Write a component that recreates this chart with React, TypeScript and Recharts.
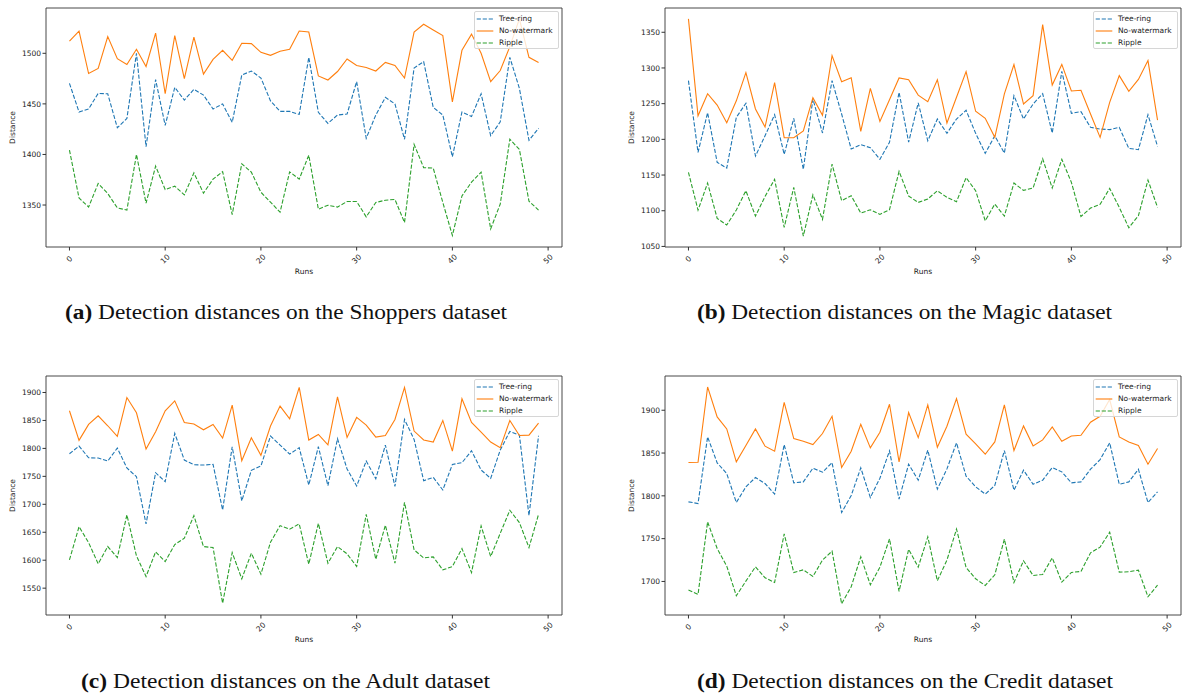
import React from 'react';
import {
  LineChart, Line, XAxis, YAxis, Legend, ReferenceArea,
} from 'recharts';

const runs = [0, 1, 2, 3, 4, 5, 6, 7, 8, 9, 10, 11, 12, 13, 14, 15, 16, 17, 18, 19, 20, 21, 22, 23, 24, 25, 26, 27, 28, 29, 30, 31, 32, 33, 34, 35, 36, 37, 38, 39, 40, 41, 42, 43, 44, 45, 46, 47, 48, 49];
const xTicks = [0, 10, 20, 30, 40, 50];

const shoppersTreeRing = [1470.3, 1442, 1445, 1460.4, 1460, 1426.4, 1435.6, 1500, 1407.6, 1474, 1428.7, 1466.3, 1453.8, 1464.4, 1458.7, 1445, 1450, 1431.7, 1478.5, 1482.5, 1475.6, 1453, 1442.6, 1442.6, 1439.6, 1496, 1441.6, 1430.7, 1439, 1440, 1472, 1416, 1439, 1456.4, 1450, 1415, 1485.5, 1491.7, 1446.5, 1439, 1397.7, 1442, 1437.6, 1460, 1418.5, 1432.3, 1496, 1465.3, 1414, 1425.7];
const shoppersNoWatermark = [1512, 1522, 1480, 1485, 1516.5, 1494.7, 1489, 1504, 1487, 1520, 1460, 1517.5, 1475, 1516, 1479.5, 1494, 1503, 1493, 1510, 1509.6, 1501, 1498, 1502, 1504, 1522, 1521, 1477.6, 1473.6, 1482, 1494.4, 1488, 1486, 1482.5, 1491, 1488, 1475.6, 1521, 1528.7, 1523, 1517.5, 1452, 1503, 1519, 1500, 1472, 1483, 1506.6, 1534, 1496, 1491];
const shoppersRipple = [1404.3, 1357, 1348, 1371.3, 1361.4, 1347.2, 1345, 1400, 1351.8, 1388.5, 1365.3, 1368.7, 1360, 1381.8, 1361.7, 1375.6, 1383, 1340.6, 1390.8, 1382.5, 1362.7, 1352.8, 1343, 1382.8, 1375.6, 1399.3, 1345.9, 1349.8, 1348, 1353.5, 1353.5, 1338.3, 1352.5, 1354.8, 1355.5, 1332.7, 1410, 1387, 1386.5, 1352.5, 1319.9, 1359, 1372.6, 1382.5, 1326.4, 1351, 1415, 1405, 1353.8, 1345];

const magicTreeRing = [1282.2, 1181.8, 1237.4, 1167.8, 1159.8, 1230.8, 1250.5, 1176.6, 1205, 1234.6, 1179, 1229.4, 1158, 1256.5, 1208.9, 1282.2, 1235.5, 1186.4, 1192.5, 1188.3, 1172, 1195.8, 1265.9, 1196, 1251, 1198, 1228.5, 1208.4, 1228.5, 1240.7, 1208.4, 1180.4, 1205, 1180.8, 1261.2, 1228.5, 1249.5, 1264, 1208.9, 1295.3, 1236.4, 1238.8, 1216.8, 1214.5, 1213.6, 1216.8, 1187.4, 1185.5, 1234.6, 1190.2];
const magicNoWatermark = [1368.7, 1233, 1264, 1248, 1223.4, 1254, 1293.5, 1242.5, 1217.3, 1279.4, 1202.3, 1202.3, 1211.7, 1258.4, 1233.6, 1317.3, 1280.8, 1286.4, 1211.2, 1271.5, 1225.2, 1255.6, 1286, 1283.6, 1262, 1252.8, 1283.6, 1222.9, 1259, 1294.9, 1239.3, 1229.4, 1202.8, 1263.6, 1304.7, 1249.5, 1261.2, 1360.7, 1276, 1305, 1267.8, 1268.7, 1235.5, 1202.8, 1251.9, 1289.3, 1267.3, 1284, 1310.3, 1227];
const magicRipple = [1153.7, 1100.9, 1138.8, 1089.3, 1080, 1101, 1128, 1092.5, 1120, 1144, 1076.6, 1132.7, 1064.5, 1122.4, 1087.9, 1165.4, 1114, 1121, 1096.7, 1101.4, 1094.9, 1101.4, 1155.1, 1120.6, 1111.7, 1116.4, 1128, 1118.7, 1112.6, 1146.3, 1128, 1086, 1109.3, 1092.5, 1138.8, 1128.5, 1131.8, 1172.9, 1131.8, 1172, 1139.7, 1092, 1103.7, 1108.9, 1131.3, 1104.7, 1076.2, 1093, 1143, 1104.7];

const adultTreeRing = [1790.5, 1804.2, 1783.3, 1782.7, 1777.4, 1800.6, 1764.9, 1749.4, 1664.9, 1756.5, 1740.5, 1826.8, 1779.2, 1770.8, 1770.2, 1771.4, 1689.9, 1803, 1706, 1760.7, 1768.5, 1822, 1806, 1789.9, 1801.2, 1734.5, 1803, 1733.3, 1817.3, 1763.1, 1732.7, 1777.4, 1745.8, 1806, 1732.1, 1851.8, 1816, 1742.3, 1748.2, 1725.6, 1771.4, 1774.4, 1795.8, 1761.3, 1746.4, 1797, 1830.4, 1823.8, 1679.8, 1822.6];
const adultNoWatermark = [1867.3, 1814.3, 1842.9, 1858.3, 1840.5, 1821.4, 1891, 1863.7, 1798.8, 1829.8, 1867.3, 1885, 1846.4, 1843.5, 1833.3, 1842.9, 1818.5, 1877.4, 1778, 1819, 1787.5, 1840, 1875.6, 1853, 1909, 1815, 1825, 1806.5, 1892.3, 1819.6, 1855.4, 1841.7, 1820.2, 1823.2, 1851.8, 1909, 1831, 1815, 1811.3, 1850, 1795.2, 1888.7, 1846.4, 1829.2, 1811.3, 1801.2, 1850, 1823.2, 1823.8, 1845.2];
const adultRipple = [1600.6, 1660, 1631.5, 1593.5, 1624.4, 1604.8, 1681, 1607.7, 1570.8, 1614.9, 1597.6, 1628, 1639.3, 1679.8, 1624.4, 1622.6, 1523, 1613.7, 1566.7, 1612.5, 1575, 1632.1, 1661.9, 1655.4, 1664.9, 1592.9, 1666, 1594.6, 1624.4, 1611.3, 1588.7, 1682.1, 1601.8, 1662.5, 1594.6, 1703.6, 1618.5, 1604.2, 1606, 1582.7, 1588.7, 1620.8, 1578, 1661.3, 1606.5, 1648.2, 1689.3, 1667.3, 1622.6, 1682.1];

const creditTreeRing = [1793, 1791, 1868.9, 1838.5, 1826, 1792.2, 1810.5, 1821.4, 1814.4, 1802, 1859.9, 1815.2, 1816.3, 1832.3, 1827.6, 1838.9, 1780.5, 1800.4, 1832.7, 1798, 1820.6, 1852.5, 1796.1, 1837, 1818.3, 1853.3, 1807.8, 1831.5, 1861.9, 1823, 1810.5, 1802, 1812.1, 1852.9, 1806.6, 1830, 1813.6, 1818.3, 1833.1, 1828, 1815.2, 1816.3, 1831.1, 1842.4, 1861.9, 1813.6, 1816.3, 1831.1, 1792.2, 1804.7];
const creditNoWatermark = [1838.9, 1839.3, 1927.2, 1892.2, 1878.2, 1839.7, 1858.8, 1878.2, 1858, 1852.1, 1909.3, 1866.9, 1863.8, 1859.9, 1872.8, 1893, 1833.1, 1852.1, 1883.7, 1856, 1874.3, 1907, 1839.7, 1897.3, 1868, 1906.2, 1856.8, 1881.3, 1913.6, 1872, 1860.7, 1848.6, 1863, 1906.2, 1852.9, 1881.7, 1858.4, 1865.4, 1880.5, 1863.8, 1870, 1870.8, 1886, 1893, 1912.5, 1868.9, 1863, 1858.8, 1837, 1855.3];
const creditRipple = [1689.9, 1684.8, 1769.6, 1738.5, 1717.9, 1683.3, 1700.4, 1717.1, 1704.3, 1698.8, 1755.6, 1710.5, 1713.6, 1705.8, 1724.9, 1735.4, 1673.9, 1693.8, 1728.8, 1696.1, 1716.7, 1749.8, 1688.3, 1737.5, 1716.7, 1752.1, 1700.8, 1724.9, 1761.1, 1716.3, 1703.1, 1695.3, 1707.8, 1749.4, 1698.8, 1724.1, 1707, 1708.2, 1727.6, 1699.2, 1710.5, 1711.7, 1733.5, 1740.1, 1757.6, 1710.9, 1711.3, 1713.2, 1682.1, 1695.7];

const shoppersTicks = [1350, 1400, 1450, 1500];
const magicTicks = [1050, 1100, 1150, 1200, 1250, 1300, 1350];
const adultTicks = [1550, 1600, 1650, 1700, 1750, 1800, 1850, 1900];
const creditTicks = [1700, 1750, 1800, 1850, 1900];

const FONT = '"DejaVu Sans", sans-serif';
const X_DOMAIN: [number, number] = [-2.45, 51.45];

const series = [
  { key: 'treeRing', name: 'Tree-ring', color: '#1f77b4', dash: '4.2 1.8' },
  { key: 'noWatermark', name: 'No-watermark', color: '#ff7f0e', dash: undefined },
  { key: 'ripple', name: 'Ripple', color: '#2ca02c', dash: '4.2 1.8' },
];

function buildRows(tr: number[], nw: number[], rp: number[]) {
  return runs.map((r, i) => ({ run: r, treeRing: tr[i], noWatermark: nw[i], ripple: rp[i] }));
}

const XTick = (props: any) => {
  const { x, y, payload } = props;
  return (
    <text
      transform={`translate(${x},${y + 6.5}) rotate(-45)`}
      textAnchor="middle"
      dominantBaseline="central"
      fontSize={7.5}
      fontFamily={FONT}
      fill="#222"
    >
      {payload.value}
    </text>
  );
};

const LegendBox = () => (
  <div
    style={{
      width: 85, height: 38, boxSizing: 'border-box', paddingTop: 1,
      border: '1px solid #d6d6d6', borderRadius: 2, background: 'rgba(255,255,255,0.8)',
      fontFamily: FONT, fontSize: 7.5, color: '#222',
    }}
  >
    {series.map((s) => (
      <div key={s.key} style={{ display: 'flex', alignItems: 'center', height: 12 }}>
        <svg width={24} height={6} style={{ display: 'block' }}>
          <line x1={1.7} x2={18.3} y1={3} y2={3} stroke={s.color} strokeWidth={1.1} strokeDasharray={s.dash} />
        </svg>
        <span style={{ lineHeight: '12px' }}>{s.name}</span>
      </div>
    ))}
  </div>
);

interface PanelProps {
  left: number;
  top: number;
  width: number;
  rows: any[];
  yDomain: [number, number];
  yTicks: number[];
}

function Panel({ left, top, width, rows, yDomain, yTicks }: PanelProps) {
  return (
    <div style={{ position: 'absolute', left, top }}>
      <LineChart width={width} height={290} data={rows} margin={{ top: 8, right: width - 562, left: 0, bottom: 0 }}>
        <XAxis
          dataKey="run" type="number" domain={X_DOMAIN} ticks={xTicks} allowDataOverflow
          height={43} axisLine={false} tickSize={3.5} tickLine={{ stroke: '#333' }} tick={<XTick />}
          label={{
            content: (p: any) => (
              <text x={p.viewBox.x + p.viewBox.width / 2} y={p.viewBox.y + 26.5} textAnchor="middle"
                fontSize={7.5} fontFamily={FONT} fill="#222">Runs</text>
            ),
          }}
        />
        <YAxis
          type="number" domain={yDomain} ticks={yTicks} allowDataOverflow width={46}
          axisLine={false} tickSize={3.5} tickMargin={1.5} tickLine={{ stroke: '#333' }}
          tick={{ fontSize: 7.5, fontFamily: FONT, fill: '#222' }}
          label={{
            content: (p: any) => {
              const cx = p.viewBox.x + 12.5;
              const cy = p.viewBox.y + p.viewBox.height / 2;
              return (
                <text x={cx} y={cy} transform={`rotate(-90 ${cx} ${cy})`} textAnchor="middle"
                  dominantBaseline="central" fontSize={7.5} fontFamily={FONT} fill="#222">Distance</text>
              );
            },
          }}
        />
        {series.map((s) => (
          <Line key={s.key} type="linear" dataKey={s.key} name={s.name} stroke={s.color}
            strokeWidth={1.1} strokeDasharray={s.dash} dot={false} activeDot={false} isAnimationActive={false} />
        ))}
        <ReferenceArea x1={X_DOMAIN[0]} x2={X_DOMAIN[1]} y1={yDomain[0]} y2={yDomain[1]}
          fill="none" stroke="#333" strokeWidth={0.9} ifOverflow="visible" />
        <Legend layout="vertical" align="center" verticalAlign="middle" content={<LegendBox />}
          wrapperStyle={{ left: 474, top: 11, width: 'auto', height: 'auto' }} />
      </LineChart>
    </div>
  );
}

const captions = [
  { tag: '(a)', text: ' Detection distances on the Shoppers dataset', x: 65, y: 318.5, len: 442 },
  { tag: '(b)', text: ' Detection distances on the Magic dataset', x: 697, y: 318.5, len: 415 },
  { tag: '(c)', text: ' Detection distances on the Adult dataset', x: 81, y: 687.5, len: 409 },
  { tag: '(d)', text: ' Detection distances on the Credit dataset', x: 697, y: 687.5, len: 416 },
];

export default function App() {
  return (
    <div style={{ position: 'absolute', left: 0, top: 0, width: 1182, height: 693, background: '#fff' }}>
      <Panel left={0} top={0} width={570} rows={buildRows(shoppersTreeRing, shoppersNoWatermark, shoppersRipple)}
        yDomain={[1308.5, 1544.8]} yTicks={shoppersTicks} />
      <Panel left={619} top={0} width={563} rows={buildRows(magicTreeRing, magicNoWatermark, magicRipple)}
        yDomain={[1049.2, 1384]} yTicks={magicTicks} />
      <Panel left={0} top={368} width={570} rows={buildRows(adultTreeRing, adultNoWatermark, adultRipple)}
        yDomain={[1502, 1929.5]} yTicks={adultTicks} />
      <Panel left={619} top={368} width={563} rows={buildRows(creditTreeRing, creditNoWatermark, creditRipple)}
        yDomain={[1660.8, 1940]} yTicks={creditTicks} />
      <svg width={1182} height={693} style={{ position: 'absolute', left: 0, top: 0, pointerEvents: 'none' }}>
        {captions.map((c) => (
          <text key={c.tag} x={c.x} y={c.y} textLength={c.len} lengthAdjust="spacingAndGlyphs"
            fontFamily='"Liberation Serif", serif' fontSize={20.5} fill="#111">
            <tspan fontWeight="bold">{c.tag}</tspan>
            {c.text}
          </text>
        ))}
      </svg>
    </div>
  );
}
